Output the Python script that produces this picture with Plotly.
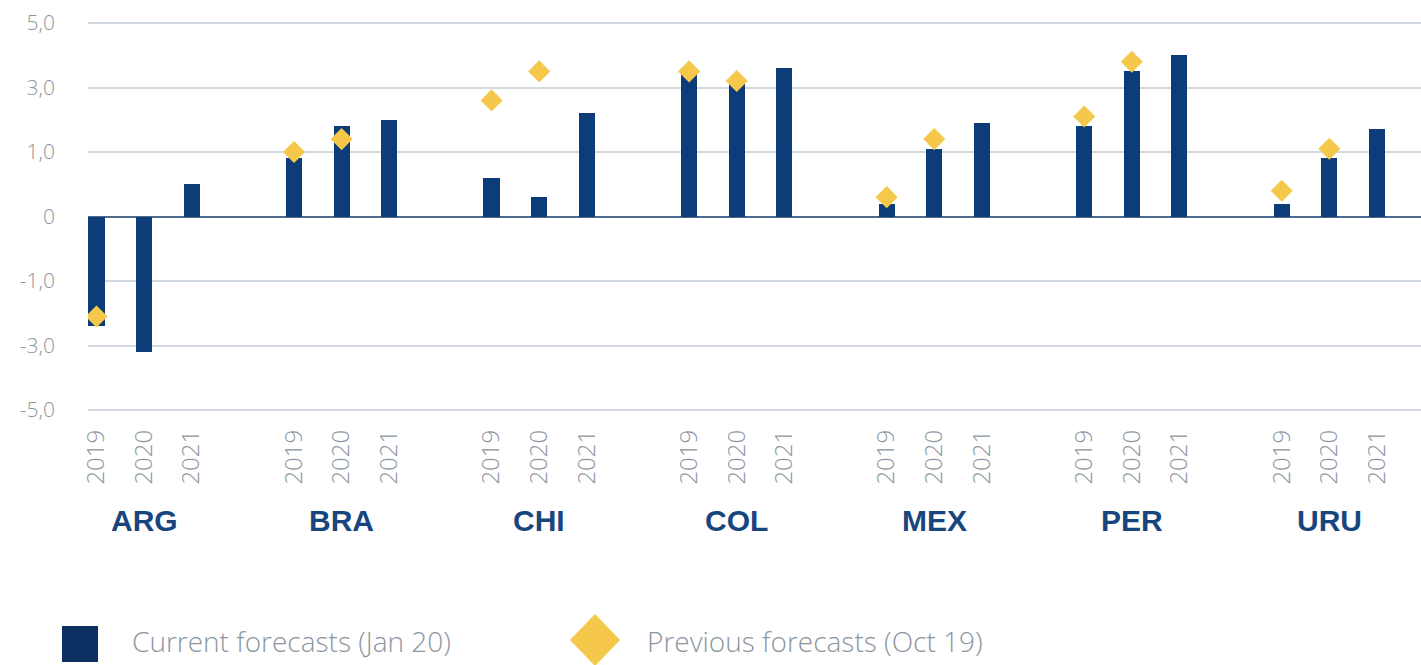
import numpy as np
import plotly.graph_objects as go

COUNTRIES = ["ARG", "BRA", "CHI", "COL", "MEX", "PER", "URU"]
YEARS = ["2019", "2020", "2021"]

# Current forecasts (Jan 20), country by country, 2019-2020-2021
CURRENT_JAN20 = [
    -2.4, -3.2, 0.5,   # ARG
    0.9, 1.8, 2.0,     # BRA
    0.6, 0.3, 2.2,     # CHI
    3.6, 3.3, 3.6,     # COL
    0.2, 1.1, 1.9,     # MEX
    1.8, 3.5, 4.0,     # PER
    0.2, 0.9, 1.7,     # URU
]
# Previous forecasts (Oct 19)
PREVIOUS_OCT19 = [
    -2.1, None, None,
    1.0, 1.4, None,
    2.6, 3.5, None,
    3.5, 3.2, None,
    0.3, 1.4, None,
    2.1, 3.8, None,
    0.4, 1.1, None,
]

Y_TICK_VALUES = [-5, -3, -1, 0, 1, 3, 5]
Y_TICK_TEXT = ["-5,0", "-3,0", "-1,0", "0", "1,0", "3,0", "5,0"]

# ---- styling / layout constants ----
W, H = 1421, 665
ML, MR, MT, MB = 88, 0, 20, 252
PW, PH = W - ML - MR, H - MT - MB
GROUP_STEP = 4.15
SLOT_PX = 47.6
FIRST_PX = 96.5
NAVY = "#0c3d78"
NAVY_DARK = "#0b2f60"
YELLOW = "#f5c84c"
GRAY_TXT = "#8d969f"
GRID = "#d3d9e0"
FONT = "Open Sans"


def to_axis(v):
    """The axis of the reference has evenly spaced gridlines labelled -5,-3,-1,0,1,3,5."""
    if v is None:
        return None
    return float(np.interp(v, Y_TICK_VALUES, list(range(-3, 4))))


def px_x(p):
    return (p - ML) / PW


def px_y(p):
    return (H - MB - p) / PH


x_pos = [g * GROUP_STEP + j for g in range(len(COUNTRIES)) for j in range(len(YEARS))]
x_text = [YEARS[j] for g in range(len(COUNTRIES)) for j in range(len(YEARS))]

fig = go.Figure()
fig.add_trace(go.Bar(
    x=x_pos,
    y=[to_axis(v) for v in CURRENT_JAN20],
    width=0.34,
    marker=dict(color=NAVY, line=dict(width=0)),
    name="Current forecasts (Jan 20)",
    customdata=CURRENT_JAN20,
    hovertemplate="%{customdata}<extra></extra>",
    showlegend=False,
))
fig.add_trace(go.Scatter(
    x=x_pos,
    y=[to_axis(v) for v in PREVIOUS_OCT19],
    mode="markers",
    marker=dict(symbol="diamond", size=17, color=YELLOW, line=dict(width=0)),
    name="Previous forecasts (Oct 19)",
    customdata=PREVIOUS_OCT19,
    hovertemplate="%{customdata}<extra></extra>",
    showlegend=False,
))

span = PH / 64.5 / 2
fig.update_yaxes(
    range=[-span, span],
    tickvals=[to_axis(v) for v in Y_TICK_VALUES],
    ticktext=Y_TICK_TEXT,
    showgrid=True, gridcolor=GRID, gridwidth=1.5,
    zeroline=True, zerolinecolor="#4f6b8c", zerolinewidth=1.5,
    showline=False,
    tickfont=dict(family=FONT, size=21, color=GRAY_TXT, weight=300),
    ticklabelstandoff=32,
    fixedrange=True,
)
fig.update_xaxes(
    range=[(ML - FIRST_PX) / SLOT_PX, (W - FIRST_PX) / SLOT_PX],
    tickvals=x_pos,
    ticktext=x_text,
    tickangle=-90,
    showgrid=False, zeroline=False, showline=False,
    tickfont=dict(family=FONT, size=24, color=GRAY_TXT, weight=300),
    ticklabelstandoff=11,
    fixedrange=True,
)

annotations = []
for g, c in enumerate(COUNTRIES):
    annotations.append(dict(
        x=g * GROUP_STEP + 1, xref="x", y=px_y(520), yref="paper",
        text=f"<b>{c}</b>", showarrow=False, xanchor="center", yanchor="middle",
        font=dict(family="Liberation Sans", size=30, color="#17467e"),
    ))
annotations.append(dict(
    x=px_x(130), xref="paper", y=px_y(641), yref="paper",
    text="Current forecasts (Jan 20)", showarrow=False, xanchor="left", yanchor="middle",
    font=dict(family=FONT, size=28, color=GRAY_TXT, weight=300),
))
annotations.append(dict(
    x=px_x(645), xref="paper", y=px_y(641), yref="paper",
    text="Previous forecasts (Oct 19)", showarrow=False, xanchor="left", yanchor="middle",
    font=dict(family=FONT, size=28, color=GRAY_TXT, weight=300),
))

dcx, dcy = 595, 640
diamond_path = (
    f"M {px_x(dcx - 25)},{px_y(dcy)} L {px_x(dcx)},{px_y(dcy - 26)} "
    f"L {px_x(dcx + 25)},{px_y(dcy)} L {px_x(dcx)},{px_y(dcy + 26)} Z"
)
shapes = [
    dict(type="rect", xref="paper", yref="paper",
         x0=px_x(62), x1=px_x(98), y0=px_y(662), y1=px_y(626),
         fillcolor=NAVY_DARK, line=dict(width=0)),
    dict(type="path", xref="paper", yref="paper", path=diamond_path,
         fillcolor=YELLOW, line=dict(width=0)),
]

fig.update_layout(
    width=W, height=H,
    margin=dict(l=ML, r=MR, t=MT, b=MB, pad=0),
    plot_bgcolor="white", paper_bgcolor="white",
    annotations=annotations, shapes=shapes,
    showlegend=False,
    bargap=0,
)

fig.write_html("out.html", post_script="document.body.style.margin='0';",
               config={"displayModeBar": False})
